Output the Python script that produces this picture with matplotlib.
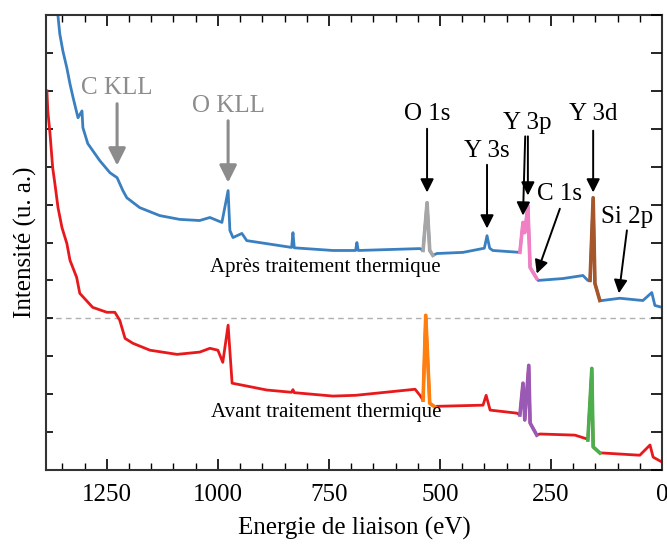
import numpy as np
import matplotlib
matplotlib.use("Agg")
import matplotlib.pyplot as plt
from matplotlib.ticker import MultipleLocator

plt.rcParams["font.family"] = ["Liberation Serif", "DejaVu Serif"]

# --- Data (binding energy in eV, intensity in a.u.) ---
be_apres = [1368, 1360, 1356, 1349, 1340, 1333, 1326, 1315, 1306, 1304, 1293, 1266, 1243,
            1227, 1214, 1205, 1176, 1131, 1086, 1041, 1018, 991, 977, 973, 966, 946, 935,
            890, 834, 831, 828, 741, 690, 687, 684, 545, 538, 529, 523, 516, 507, 448,
            400, 394, 388, 381, 320, 313, 309, 302, 297, 282, 279, 223, 178, 167,
            162, 155, 151, 140, 135, 95, 43, 23, 16, 0]
int_apres = [12.4, 11.97, 11.5, 11.05, 10.6, 10.18, 9.82, 9.29, 9.47, 9.03, 8.61, 8.16, 7.84,
             7.71, 7.37, 7.18, 6.92, 6.71, 6.61, 6.58, 6.66, 6.53, 7.37, 6.32, 6.13, 6.24, 6.05,
             5.97, 5.87, 6.26, 5.86, 5.79, 5.79, 6.0, 5.79, 5.84, 5.79, 7.05, 5.79, 5.66, 5.71, 5.74,
             5.85, 6.18, 5.85, 5.79, 5.74, 6.53, 6.26, 6.97, 5.34, 5.05, 5.0, 5.05, 5.13, 5.0,
             5.0, 7.18, 4.92, 4.47, 4.47, 4.53, 4.47, 4.68, 4.34, 4.29]

be_avant = [1385, 1383, 1378, 1372, 1367, 1360, 1351, 1340, 1333, 1318, 1311, 1282, 1250,
            1232, 1221, 1209, 1191, 1153, 1092, 1041, 1018, 1000, 989, 977, 968, 946, 890,
            834, 831, 828, 741, 690, 556, 545, 538, 532, 523, 511, 507, 403, 396, 387, 327,
            320, 313, 309, 300, 297, 282, 275, 196, 169, 167, 158, 155, 140, 135,
            50, 27, 20, 0]
int_avant = [10.0, 9.47, 8.87, 7.97, 7.55, 6.92, 6.39, 5.97, 5.53, 5.08, 4.66, 4.29, 4.16,
             4.16, 3.95, 3.47, 3.34, 3.16, 3.05, 3.11, 3.21, 3.16, 2.84, 3.82, 2.29, 2.24, 2.11,
             2.05, 2.12, 2.04, 1.95, 1.97, 2.13, 1.97, 1.84, 4.08, 1.76, 1.66, 1.68, 1.71, 1.97, 1.58, 1.50,
             1.45, 2.29, 1.32, 2.76, 1.24, 0.92, 0.95, 0.92, 0.82, 0.79, 2.68, 0.61, 0.45, 0.45,
             0.39, 0.66, 0.34, 0.21]

# highlighted peak windows (high BE, low BE, colour)
peaks_apres = [(538, 516, "#a6a6a6"), (320, 282, "#f27fc4"), (162, 140, "#a5562a")]
peaks_avant = [(538, 511, "#ff7f0e"), (320, 282, "#9b59b6"), (167, 140, "#4cae4c")]

# annotations: label, text position (eV, y), arrow start/end
labels_auger = ["C KLL", "O KLL"]
auger_text = [(1227, 10.08), (977, 9.61)]
auger_arrows = [((1227, 9.66), (1227, 8.03)), ((977, 9.21), (977, 7.58))]

labels_core = ["O 1s", "Y 3s", "Y 3p", "C 1s", "Y 3d", "Si 2p"]
core_text = [(529, 9.39), (394, 8.42), (304, 9.16), (230, 7.29), (155, 9.39), (79, 6.68)]
core_arrows = [((529, 9.0), (529, 7.32)),
               ((394, 8.05), (394, 6.37)),
               ((308, 8.8), (313, 6.71)),
               ((302, 8.8), (302, 7.24)),
               ((230, 6.89), (282, 5.18)),
               ((155, 8.95), (155, 7.32)),
               ((79, 6.32), (97, 4.66))]

fig = plt.figure(figsize=(6.67, 5.44), dpi=100)
ax = fig.add_axes([0.069, 0.136, 0.9235, 0.8364])

ax.axhline(4.0, color="#b0b0b0", lw=1.0, ls=(0, (4, 3)), zorder=1)

ax.plot(be_apres, int_apres, color="#3a80c0", lw=2.0, zorder=2)
ax.plot(be_avant, int_avant, color="#e8191c", lw=2.0, zorder=2)

for be, inten, peaks in [(be_apres, int_apres, peaks_apres),
                         (be_avant, int_avant, peaks_avant)]:
    be = np.array(be)
    inten = np.array(inten)
    for hi, lo, col in peaks:
        m = (be <= hi) & (be >= lo)
        ax.plot(be[m], inten[m], color=col, lw=2.6, zorder=3)

ax.text(757, 5.34, "Après traitement thermique", ha="center", va="center", fontsize=15)
ax.text(757, 1.53, "Avant traitement thermique", ha="center", va="center", fontsize=15)

for lab, (tx, ty), (p0, p1) in zip(labels_auger, auger_text, auger_arrows):
    ax.text(tx, ty, lab, ha="center", va="center", fontsize=18, color="#8c8c8c")
    ax.annotate("", xy=p1, xytext=p0,
                arrowprops=dict(arrowstyle="-|>", color="#8c8c8c", lw=2.2,
                                mutation_scale=26, shrinkA=0, shrinkB=0))

for lab, (tx, ty) in zip(labels_core, core_text):
    ax.text(tx, ty, lab, ha="center", va="center", fontsize=18, color="black")
for p0, p1 in core_arrows:
    ax.annotate("", xy=p1, xytext=p0,
                arrowprops=dict(arrowstyle="-|>", color="black", lw=1.4,
                                mutation_scale=20, shrinkA=0, shrinkB=0))

ax.set_xlim(1387, 0)
ax.set_ylim(0, 12)
ax.xaxis.set_major_locator(MultipleLocator(250))
ax.xaxis.set_minor_locator(MultipleLocator(50))
ax.yaxis.set_major_locator(MultipleLocator(1))
ax.set_yticklabels([])
ax.tick_params(axis="x", which="major", direction="in", length=8, width=1.2,
               top=True, labelsize=18, pad=10)
ax.tick_params(axis="x", which="minor", direction="in", length=5, width=1.0, top=True)
ax.tick_params(axis="y", which="major", direction="in", length=5, width=1.2, left=True)

# right-hand ticks are longer in the original
ax2 = ax.twinx()
ax2.set_ylim(0, 12)
ax2.yaxis.set_major_locator(MultipleLocator(1))
ax2.set_yticklabels([])
ax2.tick_params(axis="y", direction="in", length=8, width=1.2)
for sp in ax2.spines.values():
    sp.set_visible(False)

for sp in ax.spines.values():
    sp.set_linewidth(1.5)
    sp.set_color("#333333")

ax.set_xlabel("Energie de liaison (eV)", fontsize=18, labelpad=8)
ax.set_ylabel("Intensité (u. a.)", fontsize=18, labelpad=3)

fig.savefig("out.png", dpi=100)
